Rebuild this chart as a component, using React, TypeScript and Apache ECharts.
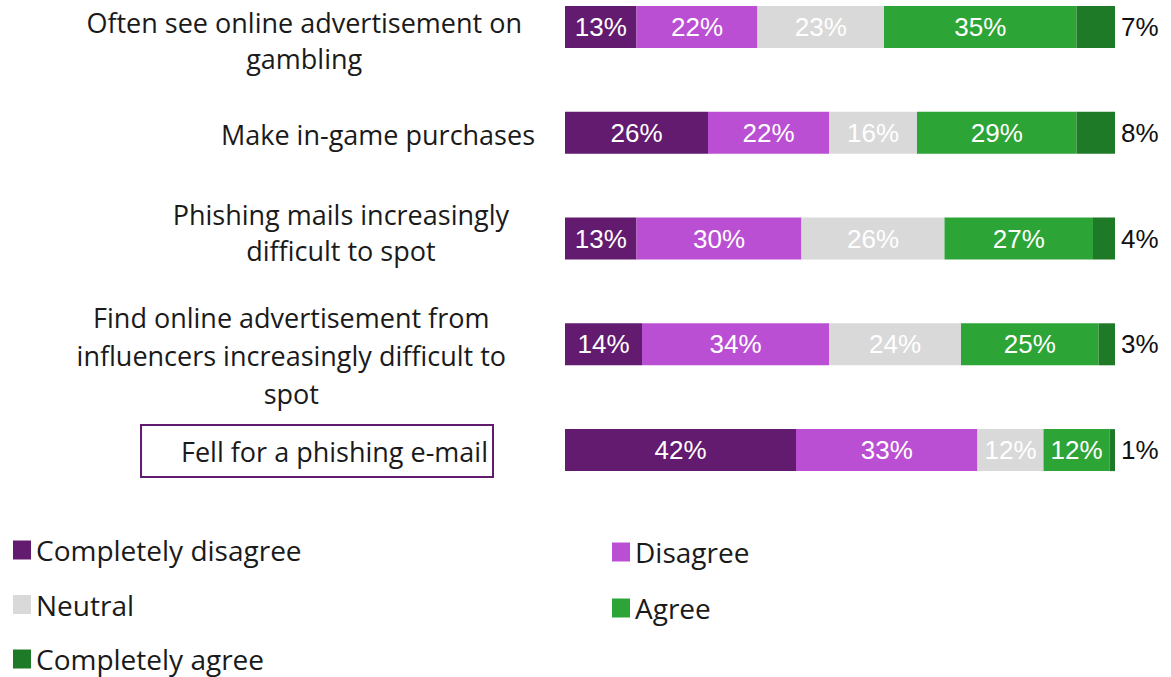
import React, { useEffect, useRef } from "react";
import * as echarts from "echarts";

const categories = [
  "Often see online advertisement on\ngambling",
  "Make in-game purchases",
  "Phishing mails increasingly\ndifficult to spot",
  "Find online advertisement from\ninfluencers increasingly difficult to\nspot",
  "Fell for a phishing e-mail",
];
const seriesNames = ["Completely disagree", "Disagree", "Neutral", "Agree", "Completely agree"];
const completelyDisagree = [13, 26, 13, 14, 42];
const disagree = [22, 22, 30, 34, 33];
const neutral = [23, 16, 26, 24, 12];
const agree = [35, 29, 27, 25, 12];
const completelyAgree = [7, 8, 4, 3, 1];

const colors = ["#621B6F", "#BA4FD3", "#D9D9D9", "#2CA436", "#1F7A27"];
const labelPadding = [
  [28, 13, 0, 0],
  [4, 0, 0, 0],
  [0, 26, 13, 0],
  [22, 29, 0, 0],
  [2, 42, 0, 0],
];
const labelLineHeights = [36, 36, 36, 38, 36];

const OFFSET = 26;

export default function App() {
  const ref = useRef<HTMLDivElement>(null);
  useEffect(() => {
    const chart = echarts.init(ref.current!, null, { renderer: "svg" });
    const values = [completelyDisagree, disagree, neutral, agree, completelyAgree];
    const series = values.map((v, i) => ({
      name: seriesNames[i],
      type: "bar",
      stack: "total",
      barWidth: 42,
      data: v,
      itemStyle: { color: colors[i] },
      label: {
        show: true,
        position: i === 4 ? "right" : "inside",
        distance: 6,
        formatter: "{c}%",
        color: i === 4 ? "#111" : "#fff",
        fontFamily: "Liberation Sans",
        fontSize: 26,
      },
    }));
    const yData = categories.map((c, i) => ({
      value: c,
      textStyle: { padding: labelPadding[i], lineHeight: labelLineHeights[i] },
    }));
    const legendText = { fontFamily: "Open Sans", fontSize: 28, color: "#1a1a1a", lineHeight: 30 };
    chart.setOption({
      animation: false,
      grid: { left: 565, right: 56, top: 0, bottom: 174, containLabel: false },
      xAxis: { type: "value", min: 0, max: 100, show: false },
      yAxis: {
        type: "category",
        inverse: true,
        data: yData,
        axisLine: { show: false },
        axisTick: { show: false },
        axisLabel: {
          margin: 30,
          align: "right",
          color: "#1a1a1a",
          fontFamily: "Open Sans",
          fontSize: 27,
          formatter: (v: string, idx: number) =>
            idx === 4
              ? `{box|${v}}`
              : v
                  .split("\n")
                  .map((l) => `{c|${l}}`)
                  .join("\n"),
          rich: {
            c: { align: "center", fontFamily: "Open Sans", fontSize: 27, color: "#1a1a1a" },
            box: {
              fontFamily: "Open Sans",
              fontSize: 27,
              color: "#1a1a1a",
              lineHeight: 33,
              borderColor: "#621B6F",
              borderWidth: 2,
              padding: [13, 5, 12, 40],
            },
          },
        },
      },
      legend: [
        {
          data: ["Completely disagree", "Neutral", "Completely agree"],
          orient: "vertical",
          left: 8,
          top: 530 + OFFSET,
          height: 200,
          icon: "rect",
          itemWidth: 18,
          itemHeight: 19,
          itemGap: 24.5,
          selectedMode: false,
          textStyle: legendText,
        },
        {
          data: ["Disagree", "Agree"],
          orient: "vertical",
          left: 607,
          top: 532 + OFFSET,
          height: 200,
          icon: "rect",
          itemWidth: 18,
          itemHeight: 19,
          itemGap: 26,
          selectedMode: false,
          textStyle: legendText,
        },
      ],
      series,
    });
    return () => chart.dispose();
  }, []);
  return (
    <div
      ref={ref}
      style={{
        position: "fixed",
        left: 0,
        top: -OFFSET,
        width: 1171,
        height: 677 + OFFSET,
        background: "#fff",
      }}
    />
  );
}
